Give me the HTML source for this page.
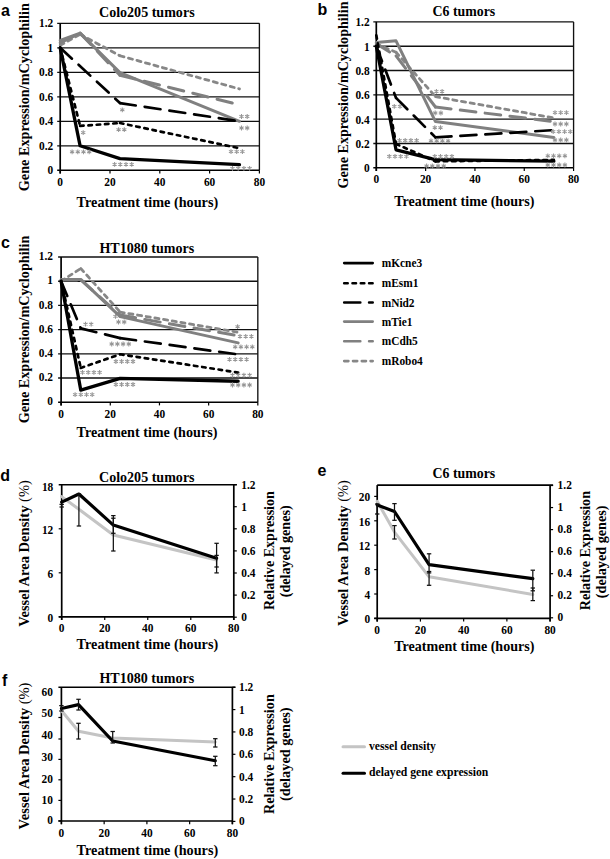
<!DOCTYPE html><html><head><meta charset="utf-8"><style>html,body{margin:0;padding:0;background:#fff;overflow:hidden;}svg{display:block;}</style></head><body><svg width="610" height="859" viewBox="0 0 610 859"><rect width="610" height="859" fill="#fff"/>
<line x1="57.20" y1="145.80" x2="259.40" y2="145.80" stroke="#111" stroke-width="1.35" />
<line x1="57.20" y1="121.30" x2="259.40" y2="121.30" stroke="#111" stroke-width="1.35" />
<line x1="57.20" y1="96.80" x2="259.40" y2="96.80" stroke="#111" stroke-width="1.35" />
<line x1="57.20" y1="72.30" x2="259.40" y2="72.30" stroke="#111" stroke-width="1.35" />
<line x1="57.20" y1="47.80" x2="259.40" y2="47.80" stroke="#111" stroke-width="1.35" />
<line x1="57.20" y1="23.30" x2="259.40" y2="23.30" stroke="#111" stroke-width="1.35" />
<line x1="259.40" y1="23.30" x2="259.40" y2="170.30" stroke="#111" stroke-width="1.35" />
<line x1="57.20" y1="170.30" x2="259.40" y2="170.30" stroke="#000" stroke-width="1.6" />
<line x1="60.20" y1="170.30" x2="60.20" y2="173.50" stroke="#000" stroke-width="1.2" />
<line x1="110.00" y1="170.30" x2="110.00" y2="173.50" stroke="#000" stroke-width="1.2" />
<line x1="159.80" y1="170.30" x2="159.80" y2="173.50" stroke="#000" stroke-width="1.2" />
<line x1="209.60" y1="170.30" x2="209.60" y2="173.50" stroke="#000" stroke-width="1.2" />
<line x1="259.40" y1="170.30" x2="259.40" y2="173.50" stroke="#000" stroke-width="1.2" />
<line x1="60.20" y1="23.30" x2="60.20" y2="173.50" stroke="#000" stroke-width="1.7" />
<text x="53.20" y="174.30" font-family='"Liberation Serif", serif' font-size="12" font-weight="bold" text-anchor="end" fill="#000" textLength="5.69" lengthAdjust="spacingAndGlyphs">0</text>
<text x="53.20" y="149.80" font-family='"Liberation Serif", serif' font-size="12" font-weight="bold" text-anchor="end" fill="#000" textLength="14.22" lengthAdjust="spacingAndGlyphs">0.2</text>
<text x="53.20" y="125.30" font-family='"Liberation Serif", serif' font-size="12" font-weight="bold" text-anchor="end" fill="#000" textLength="14.22" lengthAdjust="spacingAndGlyphs">0.4</text>
<text x="53.20" y="100.80" font-family='"Liberation Serif", serif' font-size="12" font-weight="bold" text-anchor="end" fill="#000" textLength="14.22" lengthAdjust="spacingAndGlyphs">0.6</text>
<text x="53.20" y="76.30" font-family='"Liberation Serif", serif' font-size="12" font-weight="bold" text-anchor="end" fill="#000" textLength="14.22" lengthAdjust="spacingAndGlyphs">0.8</text>
<text x="53.20" y="51.80" font-family='"Liberation Serif", serif' font-size="12" font-weight="bold" text-anchor="end" fill="#000" textLength="5.69" lengthAdjust="spacingAndGlyphs">1</text>
<text x="53.20" y="27.30" font-family='"Liberation Serif", serif' font-size="12" font-weight="bold" text-anchor="end" fill="#000" textLength="14.22" lengthAdjust="spacingAndGlyphs">1.2</text>
<text x="60.20" y="186.30" font-family='"Liberation Serif", serif' font-size="12" font-weight="bold" text-anchor="middle" fill="#000" textLength="5.69" lengthAdjust="spacingAndGlyphs">0</text>
<text x="110.00" y="186.30" font-family='"Liberation Serif", serif' font-size="12" font-weight="bold" text-anchor="middle" fill="#000" textLength="11.38" lengthAdjust="spacingAndGlyphs">20</text>
<text x="159.80" y="186.30" font-family='"Liberation Serif", serif' font-size="12" font-weight="bold" text-anchor="middle" fill="#000" textLength="11.38" lengthAdjust="spacingAndGlyphs">40</text>
<text x="209.60" y="186.30" font-family='"Liberation Serif", serif' font-size="12" font-weight="bold" text-anchor="middle" fill="#000" textLength="11.38" lengthAdjust="spacingAndGlyphs">60</text>
<text x="259.40" y="186.30" font-family='"Liberation Serif", serif' font-size="12" font-weight="bold" text-anchor="middle" fill="#000" textLength="11.38" lengthAdjust="spacingAndGlyphs">80</text>
<path d="M60.20,45.35L80.12,34.32" fill="none" stroke="#878787" stroke-width="2.8" stroke-linecap="round" stroke-dasharray="4.2 4.6"/>
<path d="M80.12,34.32L119.96,55.76" fill="none" stroke="#878787" stroke-width="2.8" stroke-linecap="round" stroke-dasharray="4.2 4.6"/>
<path d="M119.96,55.76L239.48,88.96" fill="none" stroke="#878787" stroke-width="2.8" stroke-linecap="round" stroke-dasharray="4.2 4.6"/>
<path d="M60.20,42.90L80.12,33.10" fill="none" stroke="#808080" stroke-width="3.0" stroke-linecap="round" stroke-dasharray="15.7 9.3"/>
<path d="M80.12,33.10L119.96,75.24" fill="none" stroke="#808080" stroke-width="3.0" stroke-linecap="round" stroke-dasharray="15.7 9.3"/>
<path d="M119.96,75.24L239.48,104.76" fill="none" stroke="#808080" stroke-width="3.0" stroke-linecap="round" stroke-dasharray="15.7 9.3"/>
<polyline points="60.20,40.45 80.12,33.10 119.96,72.67 239.48,121.30" fill="none" stroke="#808080" stroke-width="3.0" stroke-linecap="round" stroke-linejoin="round"/>
<path d="M60.20,47.80L119.96,103.05" fill="none" stroke="#000" stroke-width="2.7" stroke-linecap="round" stroke-dasharray="16 9"/>
<path d="M119.96,103.05L239.48,121.30" fill="none" stroke="#000" stroke-width="2.7" stroke-linecap="round" stroke-dasharray="16 9"/>
<path d="M60.20,47.80L80.12,125.96" fill="none" stroke="#000" stroke-width="2.7" stroke-linecap="round" stroke-dasharray="3.5 4.8"/>
<path d="M80.12,125.96L119.96,123.02" fill="none" stroke="#000" stroke-width="2.7" stroke-linecap="round" stroke-dasharray="3.5 4.8"/>
<path d="M119.96,123.02L239.48,148.25" fill="none" stroke="#000" stroke-width="2.7" stroke-linecap="round" stroke-dasharray="3.5 4.8"/>
<polyline points="60.20,47.80 80.12,145.80 119.96,158.66 239.48,164.67" fill="none" stroke="#000" stroke-width="3.3" stroke-linecap="round" stroke-linejoin="round"/>
<path d="M122.30,107.40L122.30,112.20M120.22,108.60L124.38,111.00M120.22,111.00L124.38,108.60" stroke="#969696" stroke-width="1.05" fill="none"/>
<path d="M83.20,130.20L83.20,135.00M81.12,131.40L85.28,133.80M81.12,133.80L85.28,131.40" stroke="#969696" stroke-width="1.05" fill="none"/>
<path d="M118.60,127.30L118.60,132.10M116.52,128.50L120.68,130.90M116.52,130.90L120.68,128.50" stroke="#969696" stroke-width="1.05" fill="none"/>
<path d="M124.30,127.30L124.30,132.10M122.22,128.50L126.38,130.90M122.22,130.90L126.38,128.50" stroke="#969696" stroke-width="1.05" fill="none"/>
<path d="M72.10,149.40L72.10,154.20M70.02,150.60L74.18,153.00M70.02,153.00L74.18,150.60" stroke="#969696" stroke-width="1.05" fill="none"/>
<path d="M77.80,149.40L77.80,154.20M75.72,150.60L79.88,153.00M75.72,153.00L79.88,150.60" stroke="#969696" stroke-width="1.05" fill="none"/>
<path d="M83.50,149.40L83.50,154.20M81.42,150.60L85.58,153.00M81.42,153.00L85.58,150.60" stroke="#969696" stroke-width="1.05" fill="none"/>
<path d="M89.20,149.40L89.20,154.20M87.12,150.60L91.28,153.00M87.12,153.00L91.28,150.60" stroke="#969696" stroke-width="1.05" fill="none"/>
<path d="M114.60,161.90L114.60,166.70M112.52,163.10L116.68,165.50M112.52,165.50L116.68,163.10" stroke="#969696" stroke-width="1.05" fill="none"/>
<path d="M120.30,161.90L120.30,166.70M118.22,163.10L122.38,165.50M118.22,165.50L122.38,163.10" stroke="#969696" stroke-width="1.05" fill="none"/>
<path d="M126.00,161.90L126.00,166.70M123.92,163.10L128.08,165.50M123.92,165.50L128.08,163.10" stroke="#969696" stroke-width="1.05" fill="none"/>
<path d="M131.70,161.90L131.70,166.70M129.62,163.10L133.78,165.50M129.62,165.50L133.78,163.10" stroke="#969696" stroke-width="1.05" fill="none"/>
<path d="M241.50,114.10L241.50,118.90M239.42,115.30L243.58,117.70M239.42,117.70L243.58,115.30" stroke="#969696" stroke-width="1.05" fill="none"/>
<path d="M247.20,114.10L247.20,118.90M245.12,115.30L249.28,117.70M245.12,117.70L249.28,115.30" stroke="#969696" stroke-width="1.05" fill="none"/>
<path d="M241.50,125.60L241.50,130.40M239.42,126.80L243.58,129.20M239.42,129.20L243.58,126.80" stroke="#969696" stroke-width="1.05" fill="none"/>
<path d="M247.20,125.60L247.20,130.40M245.12,126.80L249.28,129.20M245.12,129.20L249.28,126.80" stroke="#969696" stroke-width="1.05" fill="none"/>
<path d="M231.00,149.20L231.00,154.00M228.92,150.40L233.08,152.80M228.92,152.80L233.08,150.40" stroke="#969696" stroke-width="1.05" fill="none"/>
<path d="M236.70,149.20L236.70,154.00M234.62,150.40L238.78,152.80M234.62,152.80L238.78,150.40" stroke="#969696" stroke-width="1.05" fill="none"/>
<path d="M242.40,149.20L242.40,154.00M240.32,150.40L244.48,152.80M240.32,152.80L244.48,150.40" stroke="#969696" stroke-width="1.05" fill="none"/>
<path d="M232.50,166.00L232.50,170.80M230.42,167.20L234.58,169.60M230.42,169.60L234.58,167.20" stroke="#969696" stroke-width="1.05" fill="none"/>
<path d="M238.20,166.00L238.20,170.80M236.12,167.20L240.28,169.60M236.12,169.60L240.28,167.20" stroke="#969696" stroke-width="1.05" fill="none"/>
<path d="M243.90,166.00L243.90,170.80M241.82,167.20L245.98,169.60M241.82,169.60L245.98,167.20" stroke="#969696" stroke-width="1.05" fill="none"/>
<path d="M249.60,166.00L249.60,170.80M247.52,167.20L251.68,169.60M247.52,169.60L251.68,167.20" stroke="#969696" stroke-width="1.05" fill="none"/>
<text x="99.00" y="17.30" font-family='"Liberation Serif", serif' font-size="15" font-weight="bold" text-anchor="start" fill="#000" textLength="95.60" lengthAdjust="spacingAndGlyphs">Colo205 tumors</text>
<text x="76.60" y="207.00" font-family='"Liberation Serif", serif' font-size="15" font-weight="bold" text-anchor="start" fill="#000" textLength="141.60" lengthAdjust="spacingAndGlyphs">Treatment time (hours)</text>
<g transform="translate(29.30,191.20) rotate(-90)">
<text x="0.00" y="0" font-family='"Liberation Serif", serif' font-size="15" font-weight="bold" textLength="188.00" lengthAdjust="spacingAndGlyphs" xml:space="preserve">Gene Expression/mCyclophilin</text>
</g>
<line x1="373.30" y1="143.48" x2="573.58" y2="143.48" stroke="#111" stroke-width="1.35" />
<line x1="373.30" y1="119.16" x2="573.58" y2="119.16" stroke="#111" stroke-width="1.35" />
<line x1="373.30" y1="94.84" x2="573.58" y2="94.84" stroke="#111" stroke-width="1.35" />
<line x1="373.30" y1="70.52" x2="573.58" y2="70.52" stroke="#111" stroke-width="1.35" />
<line x1="373.30" y1="46.20" x2="573.58" y2="46.20" stroke="#111" stroke-width="1.35" />
<line x1="373.30" y1="21.88" x2="573.58" y2="21.88" stroke="#111" stroke-width="1.35" />
<line x1="573.58" y1="21.88" x2="573.58" y2="167.80" stroke="#111" stroke-width="1.35" />
<line x1="373.30" y1="167.80" x2="573.58" y2="167.80" stroke="#000" stroke-width="1.6" />
<line x1="376.30" y1="167.80" x2="376.30" y2="171.00" stroke="#000" stroke-width="1.2" />
<line x1="425.62" y1="167.80" x2="425.62" y2="171.00" stroke="#000" stroke-width="1.2" />
<line x1="474.94" y1="167.80" x2="474.94" y2="171.00" stroke="#000" stroke-width="1.2" />
<line x1="524.26" y1="167.80" x2="524.26" y2="171.00" stroke="#000" stroke-width="1.2" />
<line x1="573.58" y1="167.80" x2="573.58" y2="171.00" stroke="#000" stroke-width="1.2" />
<line x1="376.30" y1="21.88" x2="376.30" y2="171.00" stroke="#000" stroke-width="1.7" />
<text x="369.60" y="172.40" font-family='"Liberation Serif", serif' font-size="12" font-weight="bold" text-anchor="end" fill="#000" textLength="5.69" lengthAdjust="spacingAndGlyphs">0</text>
<text x="369.60" y="148.08" font-family='"Liberation Serif", serif' font-size="12" font-weight="bold" text-anchor="end" fill="#000" textLength="14.22" lengthAdjust="spacingAndGlyphs">0.2</text>
<text x="369.60" y="123.76" font-family='"Liberation Serif", serif' font-size="12" font-weight="bold" text-anchor="end" fill="#000" textLength="14.22" lengthAdjust="spacingAndGlyphs">0.4</text>
<text x="369.60" y="99.44" font-family='"Liberation Serif", serif' font-size="12" font-weight="bold" text-anchor="end" fill="#000" textLength="14.22" lengthAdjust="spacingAndGlyphs">0.6</text>
<text x="369.60" y="75.12" font-family='"Liberation Serif", serif' font-size="12" font-weight="bold" text-anchor="end" fill="#000" textLength="14.22" lengthAdjust="spacingAndGlyphs">0.8</text>
<text x="369.60" y="50.80" font-family='"Liberation Serif", serif' font-size="12" font-weight="bold" text-anchor="end" fill="#000" textLength="5.69" lengthAdjust="spacingAndGlyphs">1</text>
<text x="369.60" y="26.48" font-family='"Liberation Serif", serif' font-size="12" font-weight="bold" text-anchor="end" fill="#000" textLength="14.22" lengthAdjust="spacingAndGlyphs">1.2</text>
<text x="376.30" y="183.40" font-family='"Liberation Serif", serif' font-size="12" font-weight="bold" text-anchor="middle" fill="#000" textLength="5.69" lengthAdjust="spacingAndGlyphs">0</text>
<text x="425.62" y="183.40" font-family='"Liberation Serif", serif' font-size="12" font-weight="bold" text-anchor="middle" fill="#000" textLength="11.38" lengthAdjust="spacingAndGlyphs">20</text>
<text x="474.94" y="183.40" font-family='"Liberation Serif", serif' font-size="12" font-weight="bold" text-anchor="middle" fill="#000" textLength="11.38" lengthAdjust="spacingAndGlyphs">40</text>
<text x="524.26" y="183.40" font-family='"Liberation Serif", serif' font-size="12" font-weight="bold" text-anchor="middle" fill="#000" textLength="11.38" lengthAdjust="spacingAndGlyphs">60</text>
<text x="573.58" y="183.40" font-family='"Liberation Serif", serif' font-size="12" font-weight="bold" text-anchor="middle" fill="#000" textLength="11.38" lengthAdjust="spacingAndGlyphs">80</text>
<path d="M376.30,43.77L396.03,52.28" fill="none" stroke="#878787" stroke-width="2.8" stroke-linecap="round" stroke-dasharray="4.2 4.6"/>
<path d="M396.03,52.28L435.48,96.66" fill="none" stroke="#878787" stroke-width="2.8" stroke-linecap="round" stroke-dasharray="4.2 4.6"/>
<path d="M435.48,96.66L553.85,117.94" fill="none" stroke="#878787" stroke-width="2.8" stroke-linecap="round" stroke-dasharray="4.2 4.6"/>
<path d="M376.30,43.77L396.03,55.93" fill="none" stroke="#808080" stroke-width="3.0" stroke-linecap="round" stroke-dasharray="15.7 9.3"/>
<path d="M396.03,55.93L435.48,107.00" fill="none" stroke="#808080" stroke-width="3.0" stroke-linecap="round" stroke-dasharray="15.7 9.3"/>
<path d="M435.48,107.00L553.85,121.59" fill="none" stroke="#808080" stroke-width="3.0" stroke-linecap="round" stroke-dasharray="15.7 9.3"/>
<polyline points="376.30,42.55 396.03,40.85 435.48,121.59 553.85,137.40" fill="none" stroke="#808080" stroke-width="3.0" stroke-linecap="round" stroke-linejoin="round"/>
<path d="M376.30,46.20L396.03,97.88" fill="none" stroke="#000" stroke-width="2.7" stroke-linecap="round" stroke-dasharray="16 9"/>
<path d="M396.03,97.88L435.48,137.40" fill="none" stroke="#000" stroke-width="2.7" stroke-linecap="round" stroke-dasharray="16 9"/>
<path d="M435.48,137.40L553.85,130.10" fill="none" stroke="#000" stroke-width="2.7" stroke-linecap="round" stroke-dasharray="16 9"/>
<path d="M376.30,35.26L396.03,143.97" fill="none" stroke="#000" stroke-width="2.7" stroke-linecap="round" stroke-dasharray="3.5 4.8"/>
<path d="M396.03,143.97L435.48,161.36" fill="none" stroke="#000" stroke-width="2.7" stroke-linecap="round" stroke-dasharray="3.5 4.8"/>
<path d="M435.48,161.36L553.85,159.90" fill="none" stroke="#000" stroke-width="2.7" stroke-linecap="round" stroke-dasharray="3.5 4.8"/>
<polyline points="376.30,46.20 396.03,149.80 435.48,159.65 553.85,161.11" fill="none" stroke="#000" stroke-width="3.3" stroke-linecap="round" stroke-linejoin="round"/>
<path d="M394.30,104.00L394.30,108.80M392.22,105.20L396.38,107.60M392.22,107.60L396.38,105.20" stroke="#969696" stroke-width="1.05" fill="none"/>
<path d="M400.00,104.00L400.00,108.80M397.92,105.20L402.08,107.60M397.92,107.60L402.08,105.20" stroke="#969696" stroke-width="1.05" fill="none"/>
<path d="M399.50,138.10L399.50,142.90M397.42,139.30L401.58,141.70M397.42,141.70L401.58,139.30" stroke="#969696" stroke-width="1.05" fill="none"/>
<path d="M405.20,138.10L405.20,142.90M403.12,139.30L407.28,141.70M403.12,141.70L407.28,139.30" stroke="#969696" stroke-width="1.05" fill="none"/>
<path d="M410.90,138.10L410.90,142.90M408.82,139.30L412.98,141.70M408.82,141.70L412.98,139.30" stroke="#969696" stroke-width="1.05" fill="none"/>
<path d="M416.60,138.10L416.60,142.90M414.52,139.30L418.68,141.70M414.52,141.70L418.68,139.30" stroke="#969696" stroke-width="1.05" fill="none"/>
<path d="M389.30,154.00L389.30,158.80M387.22,155.20L391.38,157.60M387.22,157.60L391.38,155.20" stroke="#969696" stroke-width="1.05" fill="none"/>
<path d="M395.00,154.00L395.00,158.80M392.92,155.20L397.08,157.60M392.92,157.60L397.08,155.20" stroke="#969696" stroke-width="1.05" fill="none"/>
<path d="M400.70,154.00L400.70,158.80M398.62,155.20L402.78,157.60M398.62,157.60L402.78,155.20" stroke="#969696" stroke-width="1.05" fill="none"/>
<path d="M406.40,154.00L406.40,158.80M404.32,155.20L408.48,157.60M404.32,157.60L408.48,155.20" stroke="#969696" stroke-width="1.05" fill="none"/>
<path d="M436.40,88.90L436.40,93.70M434.32,90.10L438.48,92.50M434.32,92.50L438.48,90.10" stroke="#969696" stroke-width="1.05" fill="none"/>
<path d="M442.10,88.90L442.10,93.70M440.02,90.10L444.18,92.50M440.02,92.50L444.18,90.10" stroke="#969696" stroke-width="1.05" fill="none"/>
<path d="M435.20,110.60L435.20,115.40M433.12,111.80L437.28,114.20M433.12,114.20L437.28,111.80" stroke="#969696" stroke-width="1.05" fill="none"/>
<path d="M440.90,110.60L440.90,115.40M438.82,111.80L442.98,114.20M438.82,114.20L442.98,111.80" stroke="#969696" stroke-width="1.05" fill="none"/>
<path d="M434.80,125.30L434.80,130.10M432.72,126.50L436.88,128.90M432.72,128.90L436.88,126.50" stroke="#969696" stroke-width="1.05" fill="none"/>
<path d="M440.50,125.30L440.50,130.10M438.42,126.50L442.58,128.90M438.42,128.90L442.58,126.50" stroke="#969696" stroke-width="1.05" fill="none"/>
<path d="M431.00,138.40L431.00,143.20M428.92,139.60L433.08,142.00M428.92,142.00L433.08,139.60" stroke="#969696" stroke-width="1.05" fill="none"/>
<path d="M436.70,138.40L436.70,143.20M434.62,139.60L438.78,142.00M434.62,142.00L438.78,139.60" stroke="#969696" stroke-width="1.05" fill="none"/>
<path d="M442.40,138.40L442.40,143.20M440.32,139.60L444.48,142.00M440.32,142.00L444.48,139.60" stroke="#969696" stroke-width="1.05" fill="none"/>
<path d="M448.10,138.40L448.10,143.20M446.02,139.60L450.18,142.00M446.02,142.00L450.18,139.60" stroke="#969696" stroke-width="1.05" fill="none"/>
<path d="M434.80,154.00L434.80,158.80M432.72,155.20L436.88,157.60M432.72,157.60L436.88,155.20" stroke="#969696" stroke-width="1.05" fill="none"/>
<path d="M440.50,154.00L440.50,158.80M438.42,155.20L442.58,157.60M438.42,157.60L442.58,155.20" stroke="#969696" stroke-width="1.05" fill="none"/>
<path d="M446.20,154.00L446.20,158.80M444.12,155.20L448.28,157.60M444.12,157.60L448.28,155.20" stroke="#969696" stroke-width="1.05" fill="none"/>
<path d="M451.90,154.00L451.90,158.80M449.82,155.20L453.98,157.60M449.82,157.60L453.98,155.20" stroke="#969696" stroke-width="1.05" fill="none"/>
<path d="M426.60,163.60L426.60,168.40M424.52,164.80L428.68,167.20M424.52,167.20L428.68,164.80" stroke="#969696" stroke-width="1.05" fill="none"/>
<path d="M432.30,163.60L432.30,168.40M430.22,164.80L434.38,167.20M430.22,167.20L434.38,164.80" stroke="#969696" stroke-width="1.05" fill="none"/>
<path d="M438.00,163.60L438.00,168.40M435.92,164.80L440.08,167.20M435.92,167.20L440.08,164.80" stroke="#969696" stroke-width="1.05" fill="none"/>
<path d="M443.70,163.60L443.70,168.40M441.62,164.80L445.78,167.20M441.62,167.20L445.78,164.80" stroke="#969696" stroke-width="1.05" fill="none"/>
<path d="M555.00,110.20L555.00,115.00M552.92,111.40L557.08,113.80M552.92,113.80L557.08,111.40" stroke="#969696" stroke-width="1.05" fill="none"/>
<path d="M560.70,110.20L560.70,115.00M558.62,111.40L562.78,113.80M558.62,113.80L562.78,111.40" stroke="#969696" stroke-width="1.05" fill="none"/>
<path d="M566.40,110.20L566.40,115.00M564.32,111.40L568.48,113.80M564.32,113.80L568.48,111.40" stroke="#969696" stroke-width="1.05" fill="none"/>
<path d="M555.00,121.60L555.00,126.40M552.92,122.80L557.08,125.20M552.92,125.20L557.08,122.80" stroke="#969696" stroke-width="1.05" fill="none"/>
<path d="M560.70,121.60L560.70,126.40M558.62,122.80L562.78,125.20M558.62,125.20L562.78,122.80" stroke="#969696" stroke-width="1.05" fill="none"/>
<path d="M566.40,121.60L566.40,126.40M564.32,122.80L568.48,125.20M564.32,125.20L568.48,122.80" stroke="#969696" stroke-width="1.05" fill="none"/>
<path d="M553.20,129.20L553.20,134.00M551.12,130.40L555.28,132.80M551.12,132.80L555.28,130.40" stroke="#969696" stroke-width="1.05" fill="none"/>
<path d="M558.90,129.20L558.90,134.00M556.82,130.40L560.98,132.80M556.82,132.80L560.98,130.40" stroke="#969696" stroke-width="1.05" fill="none"/>
<path d="M564.60,129.20L564.60,134.00M562.52,130.40L566.68,132.80M562.52,132.80L566.68,130.40" stroke="#969696" stroke-width="1.05" fill="none"/>
<path d="M570.30,129.20L570.30,134.00M568.22,130.40L572.38,132.80M568.22,132.80L572.38,130.40" stroke="#969696" stroke-width="1.05" fill="none"/>
<path d="M555.00,137.60L555.00,142.40M552.92,138.80L557.08,141.20M552.92,141.20L557.08,138.80" stroke="#969696" stroke-width="1.05" fill="none"/>
<path d="M560.70,137.60L560.70,142.40M558.62,138.80L562.78,141.20M558.62,141.20L562.78,138.80" stroke="#969696" stroke-width="1.05" fill="none"/>
<path d="M566.40,137.60L566.40,142.40M564.32,138.80L568.48,141.20M564.32,141.20L568.48,138.80" stroke="#969696" stroke-width="1.05" fill="none"/>
<path d="M547.80,153.40L547.80,158.20M545.72,154.60L549.88,157.00M545.72,157.00L549.88,154.60" stroke="#969696" stroke-width="1.05" fill="none"/>
<path d="M553.50,153.40L553.50,158.20M551.42,154.60L555.58,157.00M551.42,157.00L555.58,154.60" stroke="#969696" stroke-width="1.05" fill="none"/>
<path d="M559.20,153.40L559.20,158.20M557.12,154.60L561.28,157.00M557.12,157.00L561.28,154.60" stroke="#969696" stroke-width="1.05" fill="none"/>
<path d="M564.90,153.40L564.90,158.20M562.82,154.60L566.98,157.00M562.82,157.00L566.98,154.60" stroke="#969696" stroke-width="1.05" fill="none"/>
<path d="M547.80,162.60L547.80,167.40M545.72,163.80L549.88,166.20M545.72,166.20L549.88,163.80" stroke="#969696" stroke-width="1.05" fill="none"/>
<path d="M553.50,162.60L553.50,167.40M551.42,163.80L555.58,166.20M551.42,166.20L555.58,163.80" stroke="#969696" stroke-width="1.05" fill="none"/>
<path d="M559.20,162.60L559.20,167.40M557.12,163.80L561.28,166.20M557.12,166.20L561.28,163.80" stroke="#969696" stroke-width="1.05" fill="none"/>
<path d="M564.90,162.60L564.90,167.40M562.82,163.80L566.98,166.20M562.82,166.20L566.98,163.80" stroke="#969696" stroke-width="1.05" fill="none"/>
<text x="432.50" y="15.50" font-family='"Liberation Serif", serif' font-size="15" font-weight="bold" text-anchor="start" fill="#000" textLength="62.70" lengthAdjust="spacingAndGlyphs">C6 tumors</text>
<text x="394.20" y="205.80" font-family='"Liberation Serif", serif' font-size="15" font-weight="bold" text-anchor="start" fill="#000" textLength="140.30" lengthAdjust="spacingAndGlyphs">Treatment time (hours)</text>
<g transform="translate(347.60,188.40) rotate(-90)">
<text x="0.00" y="0" font-family='"Liberation Serif", serif' font-size="15" font-weight="bold" textLength="186.90" lengthAdjust="spacingAndGlyphs" xml:space="preserve">Gene Expression/mCyclophilin</text>
</g>
<line x1="58.10" y1="378.00" x2="257.82" y2="378.00" stroke="#111" stroke-width="1.35" />
<line x1="58.10" y1="353.80" x2="257.82" y2="353.80" stroke="#111" stroke-width="1.35" />
<line x1="58.10" y1="329.60" x2="257.82" y2="329.60" stroke="#111" stroke-width="1.35" />
<line x1="58.10" y1="305.40" x2="257.82" y2="305.40" stroke="#111" stroke-width="1.35" />
<line x1="58.10" y1="281.20" x2="257.82" y2="281.20" stroke="#111" stroke-width="1.35" />
<line x1="58.10" y1="257.00" x2="257.82" y2="257.00" stroke="#111" stroke-width="1.35" />
<line x1="257.82" y1="257.00" x2="257.82" y2="402.20" stroke="#111" stroke-width="1.35" />
<line x1="58.10" y1="402.20" x2="257.82" y2="402.20" stroke="#000" stroke-width="1.6" />
<line x1="61.10" y1="402.20" x2="61.10" y2="405.40" stroke="#000" stroke-width="1.2" />
<line x1="110.28" y1="402.20" x2="110.28" y2="405.40" stroke="#000" stroke-width="1.2" />
<line x1="159.46" y1="402.20" x2="159.46" y2="405.40" stroke="#000" stroke-width="1.2" />
<line x1="208.64" y1="402.20" x2="208.64" y2="405.40" stroke="#000" stroke-width="1.2" />
<line x1="257.82" y1="402.20" x2="257.82" y2="405.40" stroke="#000" stroke-width="1.2" />
<line x1="61.10" y1="257.00" x2="61.10" y2="405.40" stroke="#000" stroke-width="1.7" />
<text x="53.00" y="405.40" font-family='"Liberation Serif", serif' font-size="12" font-weight="bold" text-anchor="end" fill="#000" textLength="5.69" lengthAdjust="spacingAndGlyphs">0</text>
<text x="53.00" y="381.20" font-family='"Liberation Serif", serif' font-size="12" font-weight="bold" text-anchor="end" fill="#000" textLength="14.22" lengthAdjust="spacingAndGlyphs">0.2</text>
<text x="53.00" y="357.00" font-family='"Liberation Serif", serif' font-size="12" font-weight="bold" text-anchor="end" fill="#000" textLength="14.22" lengthAdjust="spacingAndGlyphs">0.4</text>
<text x="53.00" y="332.80" font-family='"Liberation Serif", serif' font-size="12" font-weight="bold" text-anchor="end" fill="#000" textLength="14.22" lengthAdjust="spacingAndGlyphs">0.6</text>
<text x="53.00" y="308.60" font-family='"Liberation Serif", serif' font-size="12" font-weight="bold" text-anchor="end" fill="#000" textLength="14.22" lengthAdjust="spacingAndGlyphs">0.8</text>
<text x="53.00" y="284.40" font-family='"Liberation Serif", serif' font-size="12" font-weight="bold" text-anchor="end" fill="#000" textLength="5.69" lengthAdjust="spacingAndGlyphs">1</text>
<text x="53.00" y="260.20" font-family='"Liberation Serif", serif' font-size="12" font-weight="bold" text-anchor="end" fill="#000" textLength="14.22" lengthAdjust="spacingAndGlyphs">1.2</text>
<text x="61.10" y="417.50" font-family='"Liberation Serif", serif' font-size="12" font-weight="bold" text-anchor="middle" fill="#000" textLength="5.69" lengthAdjust="spacingAndGlyphs">0</text>
<text x="110.28" y="417.50" font-family='"Liberation Serif", serif' font-size="12" font-weight="bold" text-anchor="middle" fill="#000" textLength="11.38" lengthAdjust="spacingAndGlyphs">20</text>
<text x="159.46" y="417.50" font-family='"Liberation Serif", serif' font-size="12" font-weight="bold" text-anchor="middle" fill="#000" textLength="11.38" lengthAdjust="spacingAndGlyphs">40</text>
<text x="208.64" y="417.50" font-family='"Liberation Serif", serif' font-size="12" font-weight="bold" text-anchor="middle" fill="#000" textLength="11.38" lengthAdjust="spacingAndGlyphs">60</text>
<text x="257.82" y="417.50" font-family='"Liberation Serif", serif' font-size="12" font-weight="bold" text-anchor="middle" fill="#000" textLength="11.38" lengthAdjust="spacingAndGlyphs">80</text>
<path d="M61.10,281.20L80.77,268.50" fill="none" stroke="#878787" stroke-width="2.8" stroke-linecap="round" stroke-dasharray="4.2 4.6"/>
<path d="M80.77,268.50L120.12,312.06" fill="none" stroke="#878787" stroke-width="2.8" stroke-linecap="round" stroke-dasharray="4.2 4.6"/>
<path d="M120.12,312.06L238.15,332.26" fill="none" stroke="#878787" stroke-width="2.8" stroke-linecap="round" stroke-dasharray="4.2 4.6"/>
<path d="M61.10,279.99L80.77,279.99" fill="none" stroke="#808080" stroke-width="3.0" stroke-linecap="round" stroke-dasharray="15.7 9.3"/>
<path d="M80.77,279.99L120.12,315.08" fill="none" stroke="#808080" stroke-width="3.0" stroke-linecap="round" stroke-dasharray="15.7 9.3"/>
<path d="M120.12,315.08L238.15,335.77" fill="none" stroke="#808080" stroke-width="3.0" stroke-linecap="round" stroke-dasharray="15.7 9.3"/>
<polyline points="61.10,279.38 80.77,279.38 120.12,316.65 238.15,342.91" fill="none" stroke="#808080" stroke-width="3.0" stroke-linecap="round" stroke-linejoin="round"/>
<path d="M61.10,281.20L80.77,328.39" fill="none" stroke="#000" stroke-width="2.7" stroke-linecap="round" stroke-dasharray="16 9"/>
<path d="M80.77,328.39L120.12,338.07" fill="none" stroke="#000" stroke-width="2.7" stroke-linecap="round" stroke-dasharray="16 9"/>
<path d="M120.12,338.07L238.15,354.40" fill="none" stroke="#000" stroke-width="2.7" stroke-linecap="round" stroke-dasharray="16 9"/>
<path d="M61.10,281.20L80.77,367.96" fill="none" stroke="#000" stroke-width="2.7" stroke-linecap="round" stroke-dasharray="3.5 4.8"/>
<path d="M80.77,367.96L120.12,354.28" fill="none" stroke="#000" stroke-width="2.7" stroke-linecap="round" stroke-dasharray="3.5 4.8"/>
<path d="M120.12,354.28L238.15,372.56" fill="none" stroke="#000" stroke-width="2.7" stroke-linecap="round" stroke-dasharray="3.5 4.8"/>
<polyline points="61.10,281.20 80.77,390.10 120.12,378.36 238.15,381.27" fill="none" stroke="#000" stroke-width="3.3" stroke-linecap="round" stroke-linejoin="round"/>
<path d="M85.50,321.80L85.50,326.60M83.42,323.00L87.58,325.40M83.42,325.40L87.58,323.00" stroke="#969696" stroke-width="1.05" fill="none"/>
<path d="M91.20,321.80L91.20,326.60M89.12,323.00L93.28,325.40M89.12,325.40L93.28,323.00" stroke="#969696" stroke-width="1.05" fill="none"/>
<path d="M115.50,314.00L115.50,318.80M113.42,315.20L117.58,317.60M113.42,317.60L117.58,315.20" stroke="#969696" stroke-width="1.05" fill="none"/>
<path d="M118.50,319.60L118.50,324.40M116.42,320.80L120.58,323.20M116.42,323.20L120.58,320.80" stroke="#969696" stroke-width="1.05" fill="none"/>
<path d="M124.20,319.60L124.20,324.40M122.12,320.80L126.28,323.20M122.12,323.20L126.28,320.80" stroke="#969696" stroke-width="1.05" fill="none"/>
<path d="M111.70,341.60L111.70,346.40M109.62,342.80L113.78,345.20M109.62,345.20L113.78,342.80" stroke="#969696" stroke-width="1.05" fill="none"/>
<path d="M117.40,341.60L117.40,346.40M115.32,342.80L119.48,345.20M115.32,345.20L119.48,342.80" stroke="#969696" stroke-width="1.05" fill="none"/>
<path d="M123.10,341.60L123.10,346.40M121.02,342.80L125.18,345.20M121.02,345.20L125.18,342.80" stroke="#969696" stroke-width="1.05" fill="none"/>
<path d="M128.80,341.60L128.80,346.40M126.72,342.80L130.88,345.20M126.72,345.20L130.88,342.80" stroke="#969696" stroke-width="1.05" fill="none"/>
<path d="M115.90,359.10L115.90,363.90M113.82,360.30L117.98,362.70M113.82,362.70L117.98,360.30" stroke="#969696" stroke-width="1.05" fill="none"/>
<path d="M121.60,359.10L121.60,363.90M119.52,360.30L123.68,362.70M119.52,362.70L123.68,360.30" stroke="#969696" stroke-width="1.05" fill="none"/>
<path d="M127.30,359.10L127.30,363.90M125.22,360.30L129.38,362.70M125.22,362.70L129.38,360.30" stroke="#969696" stroke-width="1.05" fill="none"/>
<path d="M133.00,359.10L133.00,363.90M130.92,360.30L135.08,362.70M130.92,362.70L135.08,360.30" stroke="#969696" stroke-width="1.05" fill="none"/>
<path d="M82.50,370.00L82.50,374.80M80.42,371.20L84.58,373.60M80.42,373.60L84.58,371.20" stroke="#969696" stroke-width="1.05" fill="none"/>
<path d="M88.20,370.00L88.20,374.80M86.12,371.20L90.28,373.60M86.12,373.60L90.28,371.20" stroke="#969696" stroke-width="1.05" fill="none"/>
<path d="M93.90,370.00L93.90,374.80M91.82,371.20L95.98,373.60M91.82,373.60L95.98,371.20" stroke="#969696" stroke-width="1.05" fill="none"/>
<path d="M99.60,370.00L99.60,374.80M97.52,371.20L101.68,373.60M97.52,373.60L101.68,371.20" stroke="#969696" stroke-width="1.05" fill="none"/>
<path d="M115.90,382.10L115.90,386.90M113.82,383.30L117.98,385.70M113.82,385.70L117.98,383.30" stroke="#969696" stroke-width="1.05" fill="none"/>
<path d="M121.60,382.10L121.60,386.90M119.52,383.30L123.68,385.70M119.52,385.70L123.68,383.30" stroke="#969696" stroke-width="1.05" fill="none"/>
<path d="M127.30,382.10L127.30,386.90M125.22,383.30L129.38,385.70M125.22,385.70L129.38,383.30" stroke="#969696" stroke-width="1.05" fill="none"/>
<path d="M133.00,382.10L133.00,386.90M130.92,383.30L135.08,385.70M130.92,385.70L135.08,383.30" stroke="#969696" stroke-width="1.05" fill="none"/>
<path d="M75.10,392.20L75.10,397.00M73.02,393.40L77.18,395.80M73.02,395.80L77.18,393.40" stroke="#969696" stroke-width="1.05" fill="none"/>
<path d="M80.80,392.20L80.80,397.00M78.72,393.40L82.88,395.80M78.72,395.80L82.88,393.40" stroke="#969696" stroke-width="1.05" fill="none"/>
<path d="M86.50,392.20L86.50,397.00M84.42,393.40L88.58,395.80M84.42,395.80L88.58,393.40" stroke="#969696" stroke-width="1.05" fill="none"/>
<path d="M92.20,392.20L92.20,397.00M90.12,393.40L94.28,395.80M90.12,395.80L94.28,393.40" stroke="#969696" stroke-width="1.05" fill="none"/>
<path d="M237.60,324.30L237.60,329.10M235.52,325.50L239.68,327.90M235.52,327.90L239.68,325.50" stroke="#969696" stroke-width="1.05" fill="none"/>
<path d="M240.00,333.90L240.00,338.70M237.92,335.10L242.08,337.50M237.92,337.50L242.08,335.10" stroke="#969696" stroke-width="1.05" fill="none"/>
<path d="M245.70,333.90L245.70,338.70M243.62,335.10L247.78,337.50M243.62,337.50L247.78,335.10" stroke="#969696" stroke-width="1.05" fill="none"/>
<path d="M251.40,333.90L251.40,338.70M249.32,335.10L253.48,337.50M249.32,337.50L253.48,335.10" stroke="#969696" stroke-width="1.05" fill="none"/>
<path d="M235.20,344.40L235.20,349.20M233.12,345.60L237.28,348.00M233.12,348.00L237.28,345.60" stroke="#969696" stroke-width="1.05" fill="none"/>
<path d="M240.90,344.40L240.90,349.20M238.82,345.60L242.98,348.00M238.82,348.00L242.98,345.60" stroke="#969696" stroke-width="1.05" fill="none"/>
<path d="M246.60,344.40L246.60,349.20M244.52,345.60L248.68,348.00M244.52,348.00L248.68,345.60" stroke="#969696" stroke-width="1.05" fill="none"/>
<path d="M252.30,344.40L252.30,349.20M250.22,345.60L254.38,348.00M250.22,348.00L254.38,345.60" stroke="#969696" stroke-width="1.05" fill="none"/>
<path d="M229.50,356.90L229.50,361.70M227.42,358.10L231.58,360.50M227.42,360.50L231.58,358.10" stroke="#969696" stroke-width="1.05" fill="none"/>
<path d="M235.20,356.90L235.20,361.70M233.12,358.10L237.28,360.50M233.12,360.50L237.28,358.10" stroke="#969696" stroke-width="1.05" fill="none"/>
<path d="M240.90,356.90L240.90,361.70M238.82,358.10L242.98,360.50M238.82,360.50L242.98,358.10" stroke="#969696" stroke-width="1.05" fill="none"/>
<path d="M246.60,356.90L246.60,361.70M244.52,358.10L248.68,360.50M244.52,360.50L248.68,358.10" stroke="#969696" stroke-width="1.05" fill="none"/>
<path d="M232.50,372.80L232.50,377.60M230.42,374.00L234.58,376.40M230.42,376.40L234.58,374.00" stroke="#969696" stroke-width="1.05" fill="none"/>
<path d="M238.20,372.80L238.20,377.60M236.12,374.00L240.28,376.40M236.12,376.40L240.28,374.00" stroke="#969696" stroke-width="1.05" fill="none"/>
<path d="M243.90,372.80L243.90,377.60M241.82,374.00L245.98,376.40M241.82,376.40L245.98,374.00" stroke="#969696" stroke-width="1.05" fill="none"/>
<path d="M249.60,372.80L249.60,377.60M247.52,374.00L251.68,376.40M247.52,376.40L251.68,374.00" stroke="#969696" stroke-width="1.05" fill="none"/>
<path d="M232.50,382.60L232.50,387.40M230.42,383.80L234.58,386.20M230.42,386.20L234.58,383.80" stroke="#969696" stroke-width="1.05" fill="none"/>
<path d="M238.20,382.60L238.20,387.40M236.12,383.80L240.28,386.20M236.12,386.20L240.28,383.80" stroke="#969696" stroke-width="1.05" fill="none"/>
<path d="M243.90,382.60L243.90,387.40M241.82,383.80L245.98,386.20M241.82,386.20L245.98,383.80" stroke="#969696" stroke-width="1.05" fill="none"/>
<path d="M249.60,382.60L249.60,387.40M247.52,383.80L251.68,386.20M247.52,386.20L251.68,383.80" stroke="#969696" stroke-width="1.05" fill="none"/>
<text x="99.40" y="253.00" font-family='"Liberation Serif", serif' font-size="15" font-weight="bold" text-anchor="start" fill="#000" textLength="94.80" lengthAdjust="spacingAndGlyphs">HT1080 tumors</text>
<text x="76.60" y="437.40" font-family='"Liberation Serif", serif' font-size="15" font-weight="bold" text-anchor="start" fill="#000" textLength="140.80" lengthAdjust="spacingAndGlyphs">Treatment time (hours)</text>
<g transform="translate(29.20,423.30) rotate(-90)">
<text x="0.00" y="0" font-family='"Liberation Serif", serif' font-size="15" font-weight="bold" textLength="187.70" lengthAdjust="spacingAndGlyphs" xml:space="preserve">Gene Expression/mCyclophilin</text>
</g>
<text x="1.00" y="15.60" font-family='"Liberation Sans", sans-serif' font-size="16" font-weight="bold">a</text>
<text x="317.50" y="14.70" font-family='"Liberation Sans", sans-serif' font-size="16" font-weight="bold">b</text>
<text x="1.00" y="247.80" font-family='"Liberation Sans", sans-serif' font-size="16" font-weight="bold">c</text>
<text x="0.30" y="480.50" font-family='"Liberation Sans", sans-serif' font-size="16" font-weight="bold">d</text>
<text x="317.50" y="475.90" font-family='"Liberation Sans", sans-serif' font-size="16" font-weight="bold">e</text>
<text x="2.00" y="685.50" font-family='"Liberation Sans", sans-serif' font-size="16" font-weight="bold">f</text>
<polyline points="344.20,263.10 372.70,263.10" fill="none" stroke="#000" stroke-width="2.6" stroke-linecap="round" stroke-linejoin="round"/>
<text x="381.70" y="267.10" font-family='"Liberation Serif", serif' font-size="12" font-weight="bold" text-anchor="start" fill="#000" textLength="40.44" lengthAdjust="spacingAndGlyphs">mKcne3</text>
<path d="M344.20,283.30L372.70,283.30" fill="none" stroke="#000" stroke-width="2.6" stroke-linecap="round" stroke-dasharray="3.5 4.8"/>
<text x="381.70" y="287.30" font-family='"Liberation Serif", serif' font-size="12" font-weight="bold" text-anchor="start" fill="#000" textLength="36.66" lengthAdjust="spacingAndGlyphs">mEsm1</text>
<path d="M344.20,302.50L372.70,302.50" fill="none" stroke="#000" stroke-width="2.6" stroke-linecap="round" stroke-dasharray="16.1 8.8"/>
<text x="381.70" y="306.50" font-family='"Liberation Serif", serif' font-size="12" font-weight="bold" text-anchor="start" fill="#000" textLength="32.87" lengthAdjust="spacingAndGlyphs">mNid2</text>
<polyline points="344.20,321.60 372.70,321.60" fill="none" stroke="#808080" stroke-width="2.6" stroke-linecap="round" stroke-linejoin="round"/>
<text x="381.70" y="325.60" font-family='"Liberation Serif", serif' font-size="12" font-weight="bold" text-anchor="start" fill="#000" textLength="30.76" lengthAdjust="spacingAndGlyphs">mTie1</text>
<path d="M344.20,341.30L372.70,341.30" fill="none" stroke="#808080" stroke-width="2.6" stroke-linecap="round" stroke-dasharray="16.1 8.8"/>
<text x="381.70" y="345.30" font-family='"Liberation Serif", serif' font-size="12" font-weight="bold" text-anchor="start" fill="#000" textLength="36.03" lengthAdjust="spacingAndGlyphs">mCdh5</text>
<path d="M344.20,361.10L372.70,361.10" fill="none" stroke="#878787" stroke-width="2.6" stroke-linecap="round" stroke-dasharray="4.2 4.6"/>
<text x="381.70" y="365.10" font-family='"Liberation Serif", serif' font-size="12" font-weight="bold" text-anchor="start" fill="#000" textLength="41.08" lengthAdjust="spacingAndGlyphs">mRobo4</text>
<line x1="58.70" y1="484.80" x2="236.80" y2="484.80" stroke="#000" stroke-width="1.6" />
<line x1="61.70" y1="484.80" x2="61.70" y2="620.00" stroke="#000" stroke-width="1.7" />
<line x1="233.80" y1="484.80" x2="233.80" y2="620.00" stroke="#000" stroke-width="1.7" />
<line x1="58.70" y1="616.80" x2="233.80" y2="616.80" stroke="#000" stroke-width="1.7" />
<line x1="61.70" y1="616.80" x2="61.70" y2="620.00" stroke="#000" stroke-width="1.2" />
<text x="61.70" y="632.30" font-family='"Liberation Serif", serif' font-size="12" font-weight="bold" text-anchor="middle" fill="#000" textLength="5.69" lengthAdjust="spacingAndGlyphs">0</text>
<line x1="104.73" y1="616.80" x2="104.73" y2="620.00" stroke="#000" stroke-width="1.2" />
<text x="104.73" y="632.30" font-family='"Liberation Serif", serif' font-size="12" font-weight="bold" text-anchor="middle" fill="#000" textLength="11.38" lengthAdjust="spacingAndGlyphs">20</text>
<line x1="147.75" y1="616.80" x2="147.75" y2="620.00" stroke="#000" stroke-width="1.2" />
<text x="147.75" y="632.30" font-family='"Liberation Serif", serif' font-size="12" font-weight="bold" text-anchor="middle" fill="#000" textLength="11.38" lengthAdjust="spacingAndGlyphs">40</text>
<line x1="190.78" y1="616.80" x2="190.78" y2="620.00" stroke="#000" stroke-width="1.2" />
<text x="190.78" y="632.30" font-family='"Liberation Serif", serif' font-size="12" font-weight="bold" text-anchor="middle" fill="#000" textLength="11.38" lengthAdjust="spacingAndGlyphs">60</text>
<line x1="233.80" y1="616.80" x2="233.80" y2="620.00" stroke="#000" stroke-width="1.2" />
<text x="233.80" y="632.30" font-family='"Liberation Serif", serif' font-size="12" font-weight="bold" text-anchor="middle" fill="#000" textLength="11.38" lengthAdjust="spacingAndGlyphs">80</text>
<line x1="58.70" y1="616.80" x2="61.70" y2="616.80" stroke="#000" stroke-width="1.2" />
<text x="53.30" y="622.00" font-family='"Liberation Serif", serif' font-size="12" font-weight="bold" text-anchor="end" fill="#000" textLength="5.69" lengthAdjust="spacingAndGlyphs">0</text>
<line x1="58.70" y1="572.80" x2="61.70" y2="572.80" stroke="#000" stroke-width="1.2" />
<text x="53.30" y="578.00" font-family='"Liberation Serif", serif' font-size="12" font-weight="bold" text-anchor="end" fill="#000" textLength="5.69" lengthAdjust="spacingAndGlyphs">6</text>
<line x1="58.70" y1="528.80" x2="61.70" y2="528.80" stroke="#000" stroke-width="1.2" />
<text x="53.30" y="534.00" font-family='"Liberation Serif", serif' font-size="12" font-weight="bold" text-anchor="end" fill="#000" textLength="11.38" lengthAdjust="spacingAndGlyphs">12</text>
<text x="53.30" y="491.40" font-family='"Liberation Serif", serif' font-size="12" font-weight="bold" text-anchor="end" fill="#000" textLength="11.38" lengthAdjust="spacingAndGlyphs">18</text>
<line x1="233.80" y1="617.20" x2="236.80" y2="617.20" stroke="#000" stroke-width="1.2" />
<text x="241.20" y="621.20" font-family='"Liberation Serif", serif' font-size="12" font-weight="bold" text-anchor="start" fill="#000" textLength="5.69" lengthAdjust="spacingAndGlyphs">0</text>
<line x1="233.80" y1="595.10" x2="236.80" y2="595.10" stroke="#000" stroke-width="1.2" />
<text x="241.20" y="599.10" font-family='"Liberation Serif", serif' font-size="12" font-weight="bold" text-anchor="start" fill="#000" textLength="14.22" lengthAdjust="spacingAndGlyphs">0.2</text>
<line x1="233.80" y1="573.00" x2="236.80" y2="573.00" stroke="#000" stroke-width="1.2" />
<text x="241.20" y="577.00" font-family='"Liberation Serif", serif' font-size="12" font-weight="bold" text-anchor="start" fill="#000" textLength="14.22" lengthAdjust="spacingAndGlyphs">0.4</text>
<line x1="233.80" y1="550.90" x2="236.80" y2="550.90" stroke="#000" stroke-width="1.2" />
<text x="241.20" y="554.90" font-family='"Liberation Serif", serif' font-size="12" font-weight="bold" text-anchor="start" fill="#000" textLength="14.22" lengthAdjust="spacingAndGlyphs">0.6</text>
<line x1="233.80" y1="528.80" x2="236.80" y2="528.80" stroke="#000" stroke-width="1.2" />
<text x="241.20" y="532.80" font-family='"Liberation Serif", serif' font-size="12" font-weight="bold" text-anchor="start" fill="#000" textLength="14.22" lengthAdjust="spacingAndGlyphs">0.8</text>
<line x1="233.80" y1="506.70" x2="236.80" y2="506.70" stroke="#000" stroke-width="1.2" />
<text x="241.20" y="510.70" font-family='"Liberation Serif", serif' font-size="12" font-weight="bold" text-anchor="start" fill="#000" textLength="5.69" lengthAdjust="spacingAndGlyphs">1</text>
<line x1="233.80" y1="484.60" x2="236.80" y2="484.60" stroke="#000" stroke-width="1.2" />
<text x="241.20" y="488.60" font-family='"Liberation Serif", serif' font-size="12" font-weight="bold" text-anchor="start" fill="#000" textLength="14.22" lengthAdjust="spacingAndGlyphs">1.2</text>
<polyline points="61.70,496.60 78.91,509.30 113.33,535.00 216.59,560.00" fill="none" stroke="#c4c4c4" stroke-width="3.0" stroke-linecap="round" stroke-linejoin="round"/>
<polyline points="61.70,502.10 78.91,494.00 113.33,525.10 216.59,558.30" fill="none" stroke="#000" stroke-width="3.2" stroke-linecap="round" stroke-linejoin="round"/>
<line x1="61.70" y1="504.40" x2="61.70" y2="507.00" stroke="#111" stroke-width="1.25" />
<line x1="59.50" y1="504.40" x2="63.90" y2="504.40" stroke="#111" stroke-width="1.25" />
<line x1="59.50" y1="507.00" x2="63.90" y2="507.00" stroke="#111" stroke-width="1.25" />
<line x1="78.91" y1="494.00" x2="78.91" y2="526.00" stroke="#111" stroke-width="1.25" />
<line x1="76.71" y1="494.00" x2="81.11" y2="494.00" stroke="#111" stroke-width="1.25" />
<line x1="76.71" y1="526.00" x2="81.11" y2="526.00" stroke="#111" stroke-width="1.25" />
<line x1="113.33" y1="515.60" x2="113.33" y2="533.30" stroke="#111" stroke-width="1.25" />
<line x1="111.13" y1="515.60" x2="115.53" y2="515.60" stroke="#111" stroke-width="1.25" />
<line x1="111.13" y1="533.30" x2="115.53" y2="533.30" stroke="#111" stroke-width="1.25" />
<line x1="113.33" y1="518.20" x2="113.33" y2="551.00" stroke="#111" stroke-width="1.25" />
<line x1="111.13" y1="518.20" x2="115.53" y2="518.20" stroke="#111" stroke-width="1.25" />
<line x1="111.13" y1="551.00" x2="115.53" y2="551.00" stroke="#111" stroke-width="1.25" />
<line x1="216.59" y1="543.30" x2="216.59" y2="572.90" stroke="#111" stroke-width="1.25" />
<line x1="214.39" y1="543.30" x2="218.79" y2="543.30" stroke="#111" stroke-width="1.25" />
<line x1="214.39" y1="572.90" x2="218.79" y2="572.90" stroke="#111" stroke-width="1.25" />
<line x1="216.59" y1="555.40" x2="216.59" y2="567.00" stroke="#111" stroke-width="1.25" />
<line x1="214.39" y1="555.40" x2="218.79" y2="555.40" stroke="#111" stroke-width="1.25" />
<line x1="214.39" y1="567.00" x2="218.79" y2="567.00" stroke="#111" stroke-width="1.25" />
<text x="99.00" y="482.10" font-family='"Liberation Serif", serif' font-size="14" font-weight="bold" text-anchor="start" fill="#000" textLength="95.60" lengthAdjust="spacingAndGlyphs">Colo205 tumors</text>
<text x="76.60" y="649.40" font-family='"Liberation Serif", serif' font-size="15" font-weight="bold" text-anchor="start" fill="#000" textLength="141.60" lengthAdjust="spacingAndGlyphs">Treatment time (hours)</text>
<g transform="translate(29.30,626.70) rotate(-90)">
<text x="0.00" y="0" font-family='"Liberation Serif", serif' font-size="15" font-weight="bold" textLength="124.80" lengthAdjust="spacingAndGlyphs" xml:space="preserve">Vessel Area Density </text>
<text x="124.80" y="0" font-family='"Liberation Serif", serif' font-size="15" font-weight="normal" textLength="21.80" lengthAdjust="spacingAndGlyphs" xml:space="preserve">(%)</text>
</g>
<g transform="translate(274.00,610.10) rotate(-90)">
<text x="0.00" y="0" font-family='"Liberation Serif", serif' font-size="15" font-weight="bold" textLength="119.00" lengthAdjust="spacingAndGlyphs" xml:space="preserve">Relative Expression</text>
</g>
<g transform="translate(290.00,597.30) rotate(-90)">
<text x="0.00" y="0" font-family='"Liberation Serif", serif' font-size="15" font-weight="bold" textLength="91.90" lengthAdjust="spacingAndGlyphs" xml:space="preserve">(delayed genes)</text>
</g>
<line x1="377.20" y1="485.10" x2="553.10" y2="485.10" stroke="#000" stroke-width="1.6" />
<line x1="377.20" y1="485.10" x2="377.20" y2="621.60" stroke="#000" stroke-width="1.7" />
<line x1="550.10" y1="485.10" x2="550.10" y2="621.60" stroke="#000" stroke-width="1.7" />
<line x1="374.20" y1="618.40" x2="550.10" y2="618.40" stroke="#000" stroke-width="1.7" />
<line x1="377.20" y1="618.40" x2="377.20" y2="621.60" stroke="#000" stroke-width="1.2" />
<text x="377.20" y="633.80" font-family='"Liberation Serif", serif' font-size="12" font-weight="bold" text-anchor="middle" fill="#000" textLength="5.69" lengthAdjust="spacingAndGlyphs">0</text>
<line x1="420.43" y1="618.40" x2="420.43" y2="621.60" stroke="#000" stroke-width="1.2" />
<text x="420.43" y="633.80" font-family='"Liberation Serif", serif' font-size="12" font-weight="bold" text-anchor="middle" fill="#000" textLength="11.38" lengthAdjust="spacingAndGlyphs">20</text>
<line x1="463.65" y1="618.40" x2="463.65" y2="621.60" stroke="#000" stroke-width="1.2" />
<text x="463.65" y="633.80" font-family='"Liberation Serif", serif' font-size="12" font-weight="bold" text-anchor="middle" fill="#000" textLength="11.38" lengthAdjust="spacingAndGlyphs">40</text>
<line x1="506.88" y1="618.40" x2="506.88" y2="621.60" stroke="#000" stroke-width="1.2" />
<text x="506.88" y="633.80" font-family='"Liberation Serif", serif' font-size="12" font-weight="bold" text-anchor="middle" fill="#000" textLength="11.38" lengthAdjust="spacingAndGlyphs">60</text>
<line x1="550.10" y1="618.40" x2="550.10" y2="621.60" stroke="#000" stroke-width="1.2" />
<text x="550.10" y="633.80" font-family='"Liberation Serif", serif' font-size="12" font-weight="bold" text-anchor="middle" fill="#000" textLength="11.38" lengthAdjust="spacingAndGlyphs">80</text>
<line x1="374.20" y1="618.40" x2="377.20" y2="618.40" stroke="#000" stroke-width="1.2" />
<text x="370.20" y="623.40" font-family='"Liberation Serif", serif' font-size="12" font-weight="bold" text-anchor="end" fill="#000" textLength="5.69" lengthAdjust="spacingAndGlyphs">0</text>
<line x1="374.20" y1="594.00" x2="377.20" y2="594.00" stroke="#000" stroke-width="1.2" />
<text x="370.20" y="599.00" font-family='"Liberation Serif", serif' font-size="12" font-weight="bold" text-anchor="end" fill="#000" textLength="5.69" lengthAdjust="spacingAndGlyphs">4</text>
<line x1="374.20" y1="569.60" x2="377.20" y2="569.60" stroke="#000" stroke-width="1.2" />
<text x="370.20" y="574.60" font-family='"Liberation Serif", serif' font-size="12" font-weight="bold" text-anchor="end" fill="#000" textLength="5.69" lengthAdjust="spacingAndGlyphs">8</text>
<line x1="374.20" y1="545.20" x2="377.20" y2="545.20" stroke="#000" stroke-width="1.2" />
<text x="370.20" y="550.20" font-family='"Liberation Serif", serif' font-size="12" font-weight="bold" text-anchor="end" fill="#000" textLength="11.38" lengthAdjust="spacingAndGlyphs">12</text>
<line x1="374.20" y1="520.80" x2="377.20" y2="520.80" stroke="#000" stroke-width="1.2" />
<text x="370.20" y="525.80" font-family='"Liberation Serif", serif' font-size="12" font-weight="bold" text-anchor="end" fill="#000" textLength="11.38" lengthAdjust="spacingAndGlyphs">16</text>
<line x1="374.20" y1="496.40" x2="377.20" y2="496.40" stroke="#000" stroke-width="1.2" />
<text x="370.20" y="501.40" font-family='"Liberation Serif", serif' font-size="12" font-weight="bold" text-anchor="end" fill="#000" textLength="11.38" lengthAdjust="spacingAndGlyphs">20</text>
<line x1="550.10" y1="617.80" x2="553.10" y2="617.80" stroke="#000" stroke-width="1.2" />
<text x="557.60" y="621.00" font-family='"Liberation Serif", serif' font-size="12" font-weight="bold" text-anchor="start" fill="#000" textLength="5.69" lengthAdjust="spacingAndGlyphs">0</text>
<line x1="550.10" y1="595.75" x2="553.10" y2="595.75" stroke="#000" stroke-width="1.2" />
<text x="557.60" y="598.95" font-family='"Liberation Serif", serif' font-size="12" font-weight="bold" text-anchor="start" fill="#000" textLength="14.22" lengthAdjust="spacingAndGlyphs">0.2</text>
<line x1="550.10" y1="573.70" x2="553.10" y2="573.70" stroke="#000" stroke-width="1.2" />
<text x="557.60" y="576.90" font-family='"Liberation Serif", serif' font-size="12" font-weight="bold" text-anchor="start" fill="#000" textLength="14.22" lengthAdjust="spacingAndGlyphs">0.4</text>
<line x1="550.10" y1="551.65" x2="553.10" y2="551.65" stroke="#000" stroke-width="1.2" />
<text x="557.60" y="554.85" font-family='"Liberation Serif", serif' font-size="12" font-weight="bold" text-anchor="start" fill="#000" textLength="14.22" lengthAdjust="spacingAndGlyphs">0.6</text>
<line x1="550.10" y1="529.60" x2="553.10" y2="529.60" stroke="#000" stroke-width="1.2" />
<text x="557.60" y="532.80" font-family='"Liberation Serif", serif' font-size="12" font-weight="bold" text-anchor="start" fill="#000" textLength="14.22" lengthAdjust="spacingAndGlyphs">0.8</text>
<line x1="550.10" y1="507.55" x2="553.10" y2="507.55" stroke="#000" stroke-width="1.2" />
<text x="557.60" y="510.75" font-family='"Liberation Serif", serif' font-size="12" font-weight="bold" text-anchor="start" fill="#000" textLength="5.69" lengthAdjust="spacingAndGlyphs">1</text>
<line x1="550.10" y1="485.50" x2="553.10" y2="485.50" stroke="#000" stroke-width="1.2" />
<text x="557.60" y="488.70" font-family='"Liberation Serif", serif' font-size="12" font-weight="bold" text-anchor="start" fill="#000" textLength="14.22" lengthAdjust="spacingAndGlyphs">1.2</text>
<polyline points="377.20,501.30 394.49,532.10 429.07,576.80 532.81,594.40" fill="none" stroke="#c4c4c4" stroke-width="3.0" stroke-linecap="round" stroke-linejoin="round"/>
<polyline points="377.20,504.90 394.49,511.50 429.07,564.60 532.81,578.70" fill="none" stroke="#000" stroke-width="3.2" stroke-linecap="round" stroke-linejoin="round"/>
<line x1="377.20" y1="504.00" x2="377.20" y2="514.00" stroke="#111" stroke-width="1.25" />
<line x1="375.00" y1="504.00" x2="379.40" y2="504.00" stroke="#111" stroke-width="1.25" />
<line x1="375.00" y1="514.00" x2="379.40" y2="514.00" stroke="#111" stroke-width="1.25" />
<line x1="394.49" y1="503.60" x2="394.49" y2="520.30" stroke="#111" stroke-width="1.25" />
<line x1="392.29" y1="503.60" x2="396.69" y2="503.60" stroke="#111" stroke-width="1.25" />
<line x1="392.29" y1="520.30" x2="396.69" y2="520.30" stroke="#111" stroke-width="1.25" />
<line x1="394.49" y1="525.60" x2="394.49" y2="539.00" stroke="#111" stroke-width="1.25" />
<line x1="392.29" y1="525.60" x2="396.69" y2="525.60" stroke="#111" stroke-width="1.25" />
<line x1="392.29" y1="539.00" x2="396.69" y2="539.00" stroke="#111" stroke-width="1.25" />
<line x1="429.07" y1="553.80" x2="429.07" y2="572.90" stroke="#111" stroke-width="1.25" />
<line x1="426.87" y1="553.80" x2="431.27" y2="553.80" stroke="#111" stroke-width="1.25" />
<line x1="426.87" y1="572.90" x2="431.27" y2="572.90" stroke="#111" stroke-width="1.25" />
<line x1="429.07" y1="571.50" x2="429.07" y2="585.30" stroke="#111" stroke-width="1.25" />
<line x1="426.87" y1="571.50" x2="431.27" y2="571.50" stroke="#111" stroke-width="1.25" />
<line x1="426.87" y1="585.30" x2="431.27" y2="585.30" stroke="#111" stroke-width="1.25" />
<line x1="532.81" y1="570.20" x2="532.81" y2="600.60" stroke="#111" stroke-width="1.25" />
<line x1="530.61" y1="570.20" x2="535.01" y2="570.20" stroke="#111" stroke-width="1.25" />
<line x1="530.61" y1="600.60" x2="535.01" y2="600.60" stroke="#111" stroke-width="1.25" />
<line x1="532.81" y1="588.00" x2="532.81" y2="590.80" stroke="#111" stroke-width="1.25" />
<line x1="530.61" y1="588.00" x2="535.01" y2="588.00" stroke="#111" stroke-width="1.25" />
<line x1="530.61" y1="590.80" x2="535.01" y2="590.80" stroke="#111" stroke-width="1.25" />
<text x="432.50" y="478.40" font-family='"Liberation Serif", serif' font-size="14" font-weight="bold" text-anchor="start" fill="#000" textLength="62.70" lengthAdjust="spacingAndGlyphs">C6 tumors</text>
<text x="394.20" y="650.70" font-family='"Liberation Serif", serif' font-size="15" font-weight="bold" text-anchor="start" fill="#000" textLength="140.30" lengthAdjust="spacingAndGlyphs">Treatment time (hours)</text>
<g transform="translate(347.90,626.00) rotate(-90)">
<text x="0.00" y="0" font-family='"Liberation Serif", serif' font-size="15" font-weight="bold" textLength="124.21" lengthAdjust="spacingAndGlyphs" xml:space="preserve">Vessel Area Density </text>
<text x="124.21" y="0" font-family='"Liberation Serif", serif' font-size="15" font-weight="normal" textLength="21.69" lengthAdjust="spacingAndGlyphs" xml:space="preserve">(%)</text>
</g>
<g transform="translate(590.30,610.30) rotate(-90)">
<text x="0.00" y="0" font-family='"Liberation Serif", serif' font-size="15" font-weight="bold" textLength="119.30" lengthAdjust="spacingAndGlyphs" xml:space="preserve">Relative Expression</text>
</g>
<g transform="translate(606.00,598.20) rotate(-90)">
<text x="0.00" y="0" font-family='"Liberation Serif", serif' font-size="15" font-weight="bold" textLength="92.80" lengthAdjust="spacingAndGlyphs" xml:space="preserve">(delayed genes)</text>
</g>
<line x1="58.40" y1="687.30" x2="235.40" y2="687.30" stroke="#000" stroke-width="1.6" />
<line x1="61.40" y1="687.30" x2="61.40" y2="824.20" stroke="#000" stroke-width="1.7" />
<line x1="232.40" y1="687.30" x2="232.40" y2="824.20" stroke="#000" stroke-width="1.7" />
<line x1="58.40" y1="821.00" x2="232.40" y2="821.00" stroke="#000" stroke-width="1.7" />
<line x1="61.40" y1="821.00" x2="61.40" y2="824.20" stroke="#000" stroke-width="1.2" />
<text x="61.40" y="836.90" font-family='"Liberation Serif", serif' font-size="12" font-weight="bold" text-anchor="middle" fill="#000" textLength="5.69" lengthAdjust="spacingAndGlyphs">0</text>
<line x1="104.15" y1="821.00" x2="104.15" y2="824.20" stroke="#000" stroke-width="1.2" />
<text x="104.15" y="836.90" font-family='"Liberation Serif", serif' font-size="12" font-weight="bold" text-anchor="middle" fill="#000" textLength="11.38" lengthAdjust="spacingAndGlyphs">20</text>
<line x1="146.90" y1="821.00" x2="146.90" y2="824.20" stroke="#000" stroke-width="1.2" />
<text x="146.90" y="836.90" font-family='"Liberation Serif", serif' font-size="12" font-weight="bold" text-anchor="middle" fill="#000" textLength="11.38" lengthAdjust="spacingAndGlyphs">40</text>
<line x1="189.65" y1="821.00" x2="189.65" y2="824.20" stroke="#000" stroke-width="1.2" />
<text x="189.65" y="836.90" font-family='"Liberation Serif", serif' font-size="12" font-weight="bold" text-anchor="middle" fill="#000" textLength="11.38" lengthAdjust="spacingAndGlyphs">60</text>
<line x1="232.40" y1="821.00" x2="232.40" y2="824.20" stroke="#000" stroke-width="1.2" />
<text x="232.40" y="836.90" font-family='"Liberation Serif", serif' font-size="12" font-weight="bold" text-anchor="middle" fill="#000" textLength="11.38" lengthAdjust="spacingAndGlyphs">80</text>
<line x1="58.40" y1="820.90" x2="61.40" y2="820.90" stroke="#000" stroke-width="1.2" />
<text x="52.90" y="824.40" font-family='"Liberation Serif", serif' font-size="12" font-weight="bold" text-anchor="end" fill="#000" textLength="5.69" lengthAdjust="spacingAndGlyphs">0</text>
<line x1="58.40" y1="800.40" x2="61.40" y2="800.40" stroke="#000" stroke-width="1.2" />
<text x="52.90" y="803.50" font-family='"Liberation Serif", serif' font-size="12" font-weight="bold" text-anchor="end" fill="#000" textLength="11.38" lengthAdjust="spacingAndGlyphs">10</text>
<line x1="58.40" y1="779.80" x2="61.40" y2="779.80" stroke="#000" stroke-width="1.2" />
<text x="52.90" y="782.60" font-family='"Liberation Serif", serif' font-size="12" font-weight="bold" text-anchor="end" fill="#000" textLength="11.38" lengthAdjust="spacingAndGlyphs">20</text>
<line x1="58.40" y1="759.40" x2="61.40" y2="759.40" stroke="#000" stroke-width="1.2" />
<text x="52.90" y="760.70" font-family='"Liberation Serif", serif' font-size="12" font-weight="bold" text-anchor="end" fill="#000" textLength="11.38" lengthAdjust="spacingAndGlyphs">30</text>
<line x1="58.40" y1="739.00" x2="61.40" y2="739.00" stroke="#000" stroke-width="1.2" />
<text x="52.90" y="739.00" font-family='"Liberation Serif", serif' font-size="12" font-weight="bold" text-anchor="end" fill="#000" textLength="11.38" lengthAdjust="spacingAndGlyphs">40</text>
<line x1="58.40" y1="717.50" x2="61.40" y2="717.50" stroke="#000" stroke-width="1.2" />
<text x="52.90" y="717.10" font-family='"Liberation Serif", serif' font-size="12" font-weight="bold" text-anchor="end" fill="#000" textLength="11.38" lengthAdjust="spacingAndGlyphs">50</text>
<text x="52.90" y="696.20" font-family='"Liberation Serif", serif' font-size="12" font-weight="bold" text-anchor="end" fill="#000" textLength="11.38" lengthAdjust="spacingAndGlyphs">60</text>
<line x1="232.40" y1="821.40" x2="235.40" y2="821.40" stroke="#000" stroke-width="1.2" />
<text x="239.00" y="825.40" font-family='"Liberation Serif", serif' font-size="12" font-weight="bold" text-anchor="start" fill="#000" textLength="5.69" lengthAdjust="spacingAndGlyphs">0</text>
<line x1="232.40" y1="799.03" x2="235.40" y2="799.03" stroke="#000" stroke-width="1.2" />
<text x="239.00" y="803.03" font-family='"Liberation Serif", serif' font-size="12" font-weight="bold" text-anchor="start" fill="#000" textLength="14.22" lengthAdjust="spacingAndGlyphs">0.2</text>
<line x1="232.40" y1="776.67" x2="235.40" y2="776.67" stroke="#000" stroke-width="1.2" />
<text x="239.00" y="780.67" font-family='"Liberation Serif", serif' font-size="12" font-weight="bold" text-anchor="start" fill="#000" textLength="14.22" lengthAdjust="spacingAndGlyphs">0.4</text>
<line x1="232.40" y1="754.30" x2="235.40" y2="754.30" stroke="#000" stroke-width="1.2" />
<text x="239.00" y="758.30" font-family='"Liberation Serif", serif' font-size="12" font-weight="bold" text-anchor="start" fill="#000" textLength="14.22" lengthAdjust="spacingAndGlyphs">0.6</text>
<line x1="232.40" y1="731.93" x2="235.40" y2="731.93" stroke="#000" stroke-width="1.2" />
<text x="239.00" y="735.93" font-family='"Liberation Serif", serif' font-size="12" font-weight="bold" text-anchor="start" fill="#000" textLength="14.22" lengthAdjust="spacingAndGlyphs">0.8</text>
<line x1="232.40" y1="709.57" x2="235.40" y2="709.57" stroke="#000" stroke-width="1.2" />
<text x="239.00" y="713.57" font-family='"Liberation Serif", serif' font-size="12" font-weight="bold" text-anchor="start" fill="#000" textLength="5.69" lengthAdjust="spacingAndGlyphs">1</text>
<line x1="232.40" y1="687.20" x2="235.40" y2="687.20" stroke="#000" stroke-width="1.2" />
<text x="239.00" y="691.20" font-family='"Liberation Serif", serif' font-size="12" font-weight="bold" text-anchor="start" fill="#000" textLength="14.22" lengthAdjust="spacingAndGlyphs">1.2</text>
<polyline points="61.40,710.50 78.50,731.20 112.70,738.00 215.30,742.00" fill="none" stroke="#c4c4c4" stroke-width="3.0" stroke-linecap="round" stroke-linejoin="round"/>
<polyline points="61.40,708.50 78.50,704.60 112.70,741.00 215.30,760.70" fill="none" stroke="#000" stroke-width="3.2" stroke-linecap="round" stroke-linejoin="round"/>
<line x1="61.40" y1="705.60" x2="61.40" y2="711.00" stroke="#111" stroke-width="1.25" />
<line x1="59.20" y1="705.60" x2="63.60" y2="705.60" stroke="#111" stroke-width="1.25" />
<line x1="59.20" y1="711.00" x2="63.60" y2="711.00" stroke="#111" stroke-width="1.25" />
<line x1="78.50" y1="699.30" x2="78.50" y2="710.00" stroke="#111" stroke-width="1.25" />
<line x1="76.30" y1="699.30" x2="80.70" y2="699.30" stroke="#111" stroke-width="1.25" />
<line x1="76.30" y1="710.00" x2="80.70" y2="710.00" stroke="#111" stroke-width="1.25" />
<line x1="78.50" y1="723.30" x2="78.50" y2="739.00" stroke="#111" stroke-width="1.25" />
<line x1="76.30" y1="723.30" x2="80.70" y2="723.30" stroke="#111" stroke-width="1.25" />
<line x1="76.30" y1="739.00" x2="80.70" y2="739.00" stroke="#111" stroke-width="1.25" />
<line x1="112.70" y1="731.50" x2="112.70" y2="743.00" stroke="#111" stroke-width="1.25" />
<line x1="110.50" y1="731.50" x2="114.90" y2="731.50" stroke="#111" stroke-width="1.25" />
<line x1="110.50" y1="743.00" x2="114.90" y2="743.00" stroke="#111" stroke-width="1.25" />
<line x1="215.30" y1="738.70" x2="215.30" y2="747.00" stroke="#111" stroke-width="1.25" />
<line x1="213.10" y1="738.70" x2="217.50" y2="738.70" stroke="#111" stroke-width="1.25" />
<line x1="213.10" y1="747.00" x2="217.50" y2="747.00" stroke="#111" stroke-width="1.25" />
<line x1="215.30" y1="756.30" x2="215.30" y2="765.70" stroke="#111" stroke-width="1.25" />
<line x1="213.10" y1="756.30" x2="217.50" y2="756.30" stroke="#111" stroke-width="1.25" />
<line x1="213.10" y1="765.70" x2="217.50" y2="765.70" stroke="#111" stroke-width="1.25" />
<text x="99.40" y="683.40" font-family='"Liberation Serif", serif' font-size="14" font-weight="bold" text-anchor="start" fill="#000" textLength="94.80" lengthAdjust="spacingAndGlyphs">HT1080 tumors</text>
<text x="76.60" y="855.00" font-family='"Liberation Serif", serif' font-size="15" font-weight="bold" text-anchor="start" fill="#000" textLength="141.60" lengthAdjust="spacingAndGlyphs">Treatment time (hours)</text>
<g transform="translate(29.20,829.40) rotate(-90)">
<text x="0.00" y="0" font-family='"Liberation Serif", serif' font-size="15" font-weight="bold" textLength="125.06" lengthAdjust="spacingAndGlyphs" xml:space="preserve">Vessel Area Density </text>
<text x="125.06" y="0" font-family='"Liberation Serif", serif' font-size="15" font-weight="normal" textLength="21.84" lengthAdjust="spacingAndGlyphs" xml:space="preserve">(%)</text>
</g>
<g transform="translate(273.50,814.10) rotate(-90)">
<text x="0.00" y="0" font-family='"Liberation Serif", serif' font-size="15" font-weight="bold" textLength="119.90" lengthAdjust="spacingAndGlyphs" xml:space="preserve">Relative Expression</text>
</g>
<g transform="translate(289.50,801.00) rotate(-90)">
<text x="0.00" y="0" font-family='"Liberation Serif", serif' font-size="15" font-weight="bold" textLength="93.60" lengthAdjust="spacingAndGlyphs" xml:space="preserve">(delayed genes)</text>
</g>
<polyline points="343.00,746.70 364.50,746.70" fill="none" stroke="#c4c4c4" stroke-width="3.0" stroke-linecap="round" stroke-linejoin="round"/>
<polyline points="343.00,773.20 364.50,773.20" fill="none" stroke="#000" stroke-width="3.0" stroke-linecap="round" stroke-linejoin="round"/>
<text x="369.00" y="749.80" font-family='"Liberation Serif", serif' font-size="12" font-weight="bold" text-anchor="start" fill="#000" textLength="66.90" lengthAdjust="spacingAndGlyphs">vessel density</text>
<text x="369.00" y="776.20" font-family='"Liberation Serif", serif' font-size="12" font-weight="bold" text-anchor="start" fill="#000" textLength="119.30" lengthAdjust="spacingAndGlyphs">delayed gene expression</text></svg></body></html>
